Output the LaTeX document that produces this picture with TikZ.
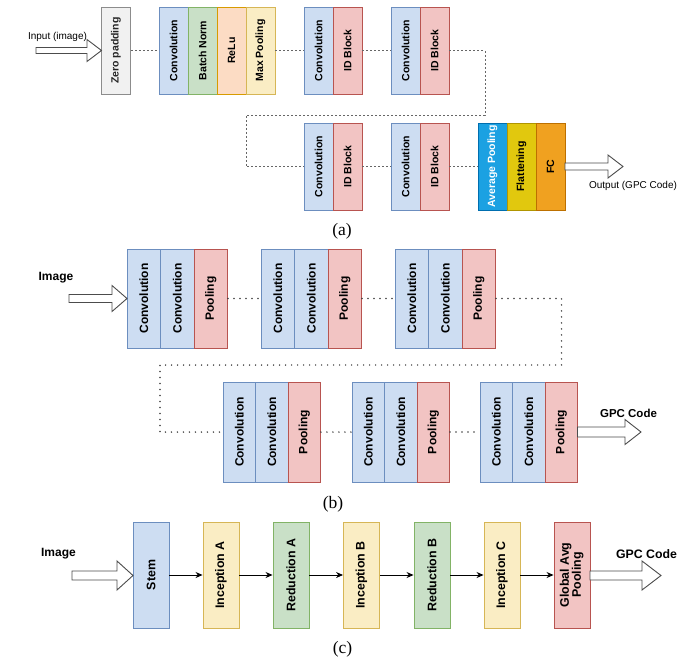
\documentclass[tikz,border=0pt]{standalone}
\usepackage{graphicx}
\usepackage{fontspec}
\usetikzlibrary{arrows.meta}
\newfontfamily\lsans{Liberation Sans}
\newfontfamily\lserif{Liberation Serif}
\definecolor{convf}{HTML}{CDDDF2}\definecolor{convd}{HTML}{6C8EBF}
\definecolor{redf}{HTML}{F2C4C3}\definecolor{redd}{HTML}{B85450}
\definecolor{grnf}{HTML}{C9E0C7}\definecolor{grnd}{HTML}{82B366}
\definecolor{orgf}{HTML}{FCDCC4}\definecolor{orgd}{HTML}{D79B00}
\definecolor{ylwf}{HTML}{FAEDC4}\definecolor{ylwd}{HTML}{D6B656}
\definecolor{gryf}{HTML}{F1F1F1}\definecolor{gryd}{HTML}{8C8C8C}
\definecolor{bluef}{HTML}{1BA1E2}\definecolor{blued}{HTML}{006EAF}
\definecolor{goldf}{HTML}{E1C80E}\definecolor{goldd}{HTML}{B09500}
\definecolor{ambf}{HTML}{F0A120}\definecolor{ambd}{HTML}{BD7000}
\newcommand\hollowarr[6]{\draw[harr] (#1,#4-#5) -- (#2,#4-#5) -- (#2,#4-#6) -- (#3,#4) -- (#2,#4+#6) -- (#2,#4+#5) -- (#1,#4+#5) -- cycle;}
\begin{document}
\begin{tikzpicture}[x=1pt,y=-1pt,
  blk/.style={draw, line width=0.9pt, inner sep=0pt, font=\lsans\bfseries\fontsize{10.5}{12}\selectfont},
  sa/.style={blk, minimum width=29pt, minimum height=87pt},
  sb/.style={blk, minimum width=33.5pt, minimum height=99pt, font=\lsans\bfseries\fontsize{12}{14}\selectfont},
  sbb/.style={blk, minimum width=32.5pt, minimum height=100pt, font=\lsans\bfseries\fontsize{12}{14}\selectfont},
  sc/.style={blk, minimum width=36pt, minimum height=106pt, font=\lsans\bfseries\fontsize{12.4}{14}\selectfont},
  conv/.style={fill=convf, draw=convd},
  idb/.style={fill=redf, draw=redd},
  grn/.style={fill=grnf, draw=grnd},
  org/.style={fill=orgf, draw=orgd},
  ylw/.style={fill=ylwf, draw=ylwd},
  gry/.style={fill=gryf, draw=gryd, text=black!85},
  blu/.style={fill=bluef, draw=blued, text=white},
  gold/.style={fill=goldf, draw=goldd},
  amb/.style={fill=ambf, draw=ambd},
  dota/.style={draw=black!60, line width=0.9pt, dash pattern=on 2pt off 2pt},
  dotb/.style={draw=black!75, line width=1.6pt, line cap=round, dash pattern=on 0pt off 6pt},
  flow/.style={draw=black, line width=0.9pt, -{Stealth[length=7pt,width=6pt]}},
  harr/.style={draw=black!70, fill=white, line width=0.9pt, line join=miter},
  lbl/.style={font=\lsans\fontsize{10}{12}\selectfont},
  lblb/.style={font=\lsans\bfseries\fontsize{12}{14}\selectfont},
  capt/.style={font=\lserif\fontsize{17.5}{20}\selectfont}
]
\useasboundingbox (0,0) rectangle (685,661);
% ---------------- (a)
\node[sa,gry] (zp) at (116,50.5) {\rotatebox{90}{Zero padding}};
\node[sa,conv] (a1) at (173.5,50.5) {\rotatebox{90}{Convolution}};
\node[sa,grn] (a2) at (202.5,50.5) {\rotatebox{90}{Batch Norm}};
\node[sa,org] (a3) at (231.5,50.5) {\rotatebox{90}{ReLu}};
\node[sa,ylw] (a4) at (260.5,50.5) {\rotatebox{90}{Max Pooling}};
\node[sa,conv] (a5) at (318.5,50.5) {\rotatebox{90}{Convolution}};
\node[sa,idb] (a6) at (347.5,50.5) {\rotatebox{90}{ID Block}};
\node[sa,conv] (a7) at (405.5,50.5) {\rotatebox{90}{Convolution}};
\node[sa,idb] (a8) at (434.5,50.5) {\rotatebox{90}{ID Block}};
\node[sa,conv] (a9) at (318.5,166.5) {\rotatebox{90}{Convolution}};
\node[sa,idb] (a10) at (347.5,166.5) {\rotatebox{90}{ID Block}};
\node[sa,conv] (a11) at (405.5,166.5) {\rotatebox{90}{Convolution}};
\node[sa,idb] (a12) at (434.5,166.5) {\rotatebox{90}{ID Block}};
\node[sa,blu] (a13) at (492.5,166.5) {\rotatebox{90}{Average Pooling}};
\node[sa,gold] (a14) at (521.5,166.5) {\rotatebox{90}{Flattening}};
\node[sa,amb] (a15) at (550.5,166.5) {\rotatebox{90}{FC}};
\draw[dota] (zp.east) -- (a1.west);
\draw[dota] (a4.east) -- (a5.west);
\draw[dota] (a6.east) -- (a7.west);
\coordinate (wa1) at (485,115);
\coordinate (wa2) at (246,115);
\draw[dota] (a8.east) -| (wa1) -- (wa2) |- (a9.west);
\draw[dota] (a10.east) -- (a11.west);
\draw[dota] (a12.east) -- (a13.west);
\hollowarr{36}{87}{101.5}{50.5}{3}{11}
\hollowarr{565}{608}{623}{166.5}{3.5}{11.5}
\node[lbl] (inA) at (57.5,37) {Input (image)};
\node[lbl] (outA) at (633,186) {Output (GPC Code)};
\node[capt] (capA) at (342,231) {(a)};
% ---------------- (b)
\node[sb,conv] (b1) at (143.75,298.5) {\rotatebox{90}{Convolution}};
\node[sb,conv] (b2) at (177.25,298.5) {\rotatebox{90}{Convolution}};
\node[sb,idb] (b3) at (210.75,298.5) {\rotatebox{90}{Pooling}};
\node[sb,conv] (b4) at (277.75,298.5) {\rotatebox{90}{Convolution}};
\node[sb,conv] (b5) at (311.25,298.5) {\rotatebox{90}{Convolution}};
\node[sb,idb] (b6) at (344.75,298.5) {\rotatebox{90}{Pooling}};
\node[sb,conv] (b7) at (411.75,298.5) {\rotatebox{90}{Convolution}};
\node[sb,conv] (b8) at (445.25,298.5) {\rotatebox{90}{Convolution}};
\node[sb,idb] (b9) at (478.75,298.5) {\rotatebox{90}{Pooling}};
\node[sbb,conv] (b10) at (239.25,432) {\rotatebox{90}{Convolution}};
\node[sbb,conv] (b11) at (271.75,432) {\rotatebox{90}{Convolution}};
\node[sbb,idb] (b12) at (304.25,432) {\rotatebox{90}{Pooling}};
\node[sbb,conv] (b13) at (368.25,432) {\rotatebox{90}{Convolution}};
\node[sbb,conv] (b14) at (400.75,432) {\rotatebox{90}{Convolution}};
\node[sbb,idb] (b15) at (433.25,432) {\rotatebox{90}{Pooling}};
\node[sbb,conv] (b16) at (496.25,432) {\rotatebox{90}{Convolution}};
\node[sbb,conv] (b17) at (528.75,432) {\rotatebox{90}{Convolution}};
\node[sbb,idb] (b18) at (561.25,432) {\rotatebox{90}{Pooling}};
\draw[dotb] (b3.east) -- (b4.west);
\draw[dotb] (b6.east) -- (b7.west);
\coordinate (wb1) at (561.5,365);
\coordinate (wb2) at (160,365);
\draw[dotb] (b9.east) -| (wb1) -- (wb2) |- (b10.west);
\draw[dotb] (b12.east) -- (b13.west);
\draw[dotb] (b15.east) -- (b16.west);
\hollowarr{69}{112}{127}{298.5}{4}{13}
\hollowarr{577.5}{625}{641}{432}{5}{12.5}
\node[lblb] (inB) at (56,278) {Image};
\node[lblb,font=\lsans\bfseries\fontsize{11.5}{14}\selectfont] (outB) at (628.5,413) {GPC Code};
\node[capt] (capB) at (333,504) {(b)};
% ---------------- (c)
\node[sc,conv] (c1) at (151,575) {\rotatebox{90}{Stem}};
\node[sc,ylw] (c2) at (221,575) {\rotatebox{90}{Inception A}};
\node[sc,grn] (c3) at (291,575) {\rotatebox{90}{Reduction A}};
\node[sc,ylw] (c4) at (361.5,575) {\rotatebox{90}{Inception B}};
\node[sc,grn] (c5) at (432,575) {\rotatebox{90}{Reduction B}};
\node[sc,ylw] (c6) at (502,575) {\rotatebox{90}{Inception C}};
\node[sc,idb] (c7) at (572,575) {\rotatebox{90}{\begin{tabular}{@{}c@{}}Global Avg\\[-2pt]Pooling\end{tabular}}};
\draw[flow] (c1) -- (c2);
\draw[flow] (c2) -- (c3);
\draw[flow] (c3) -- (c4);
\draw[flow] (c4) -- (c5);
\draw[flow] (c5) -- (c6);
\draw[flow] (c6) -- (c7);
\hollowarr{72}{117}{133}{575.5}{4.5}{14.5}
\hollowarr{590}{642}{661}{575.5}{4.5}{14.5}
\node[lblb] (inC) at (58.5,554) {Image};
\node[lblb,font=\lsans\bfseries\fontsize{12.3}{14}\selectfont] (outC) at (646.5,554) {GPC Code};
\node[capt] (capC) at (342.5,649) {(c)};
\end{tikzpicture}
\end{document}
